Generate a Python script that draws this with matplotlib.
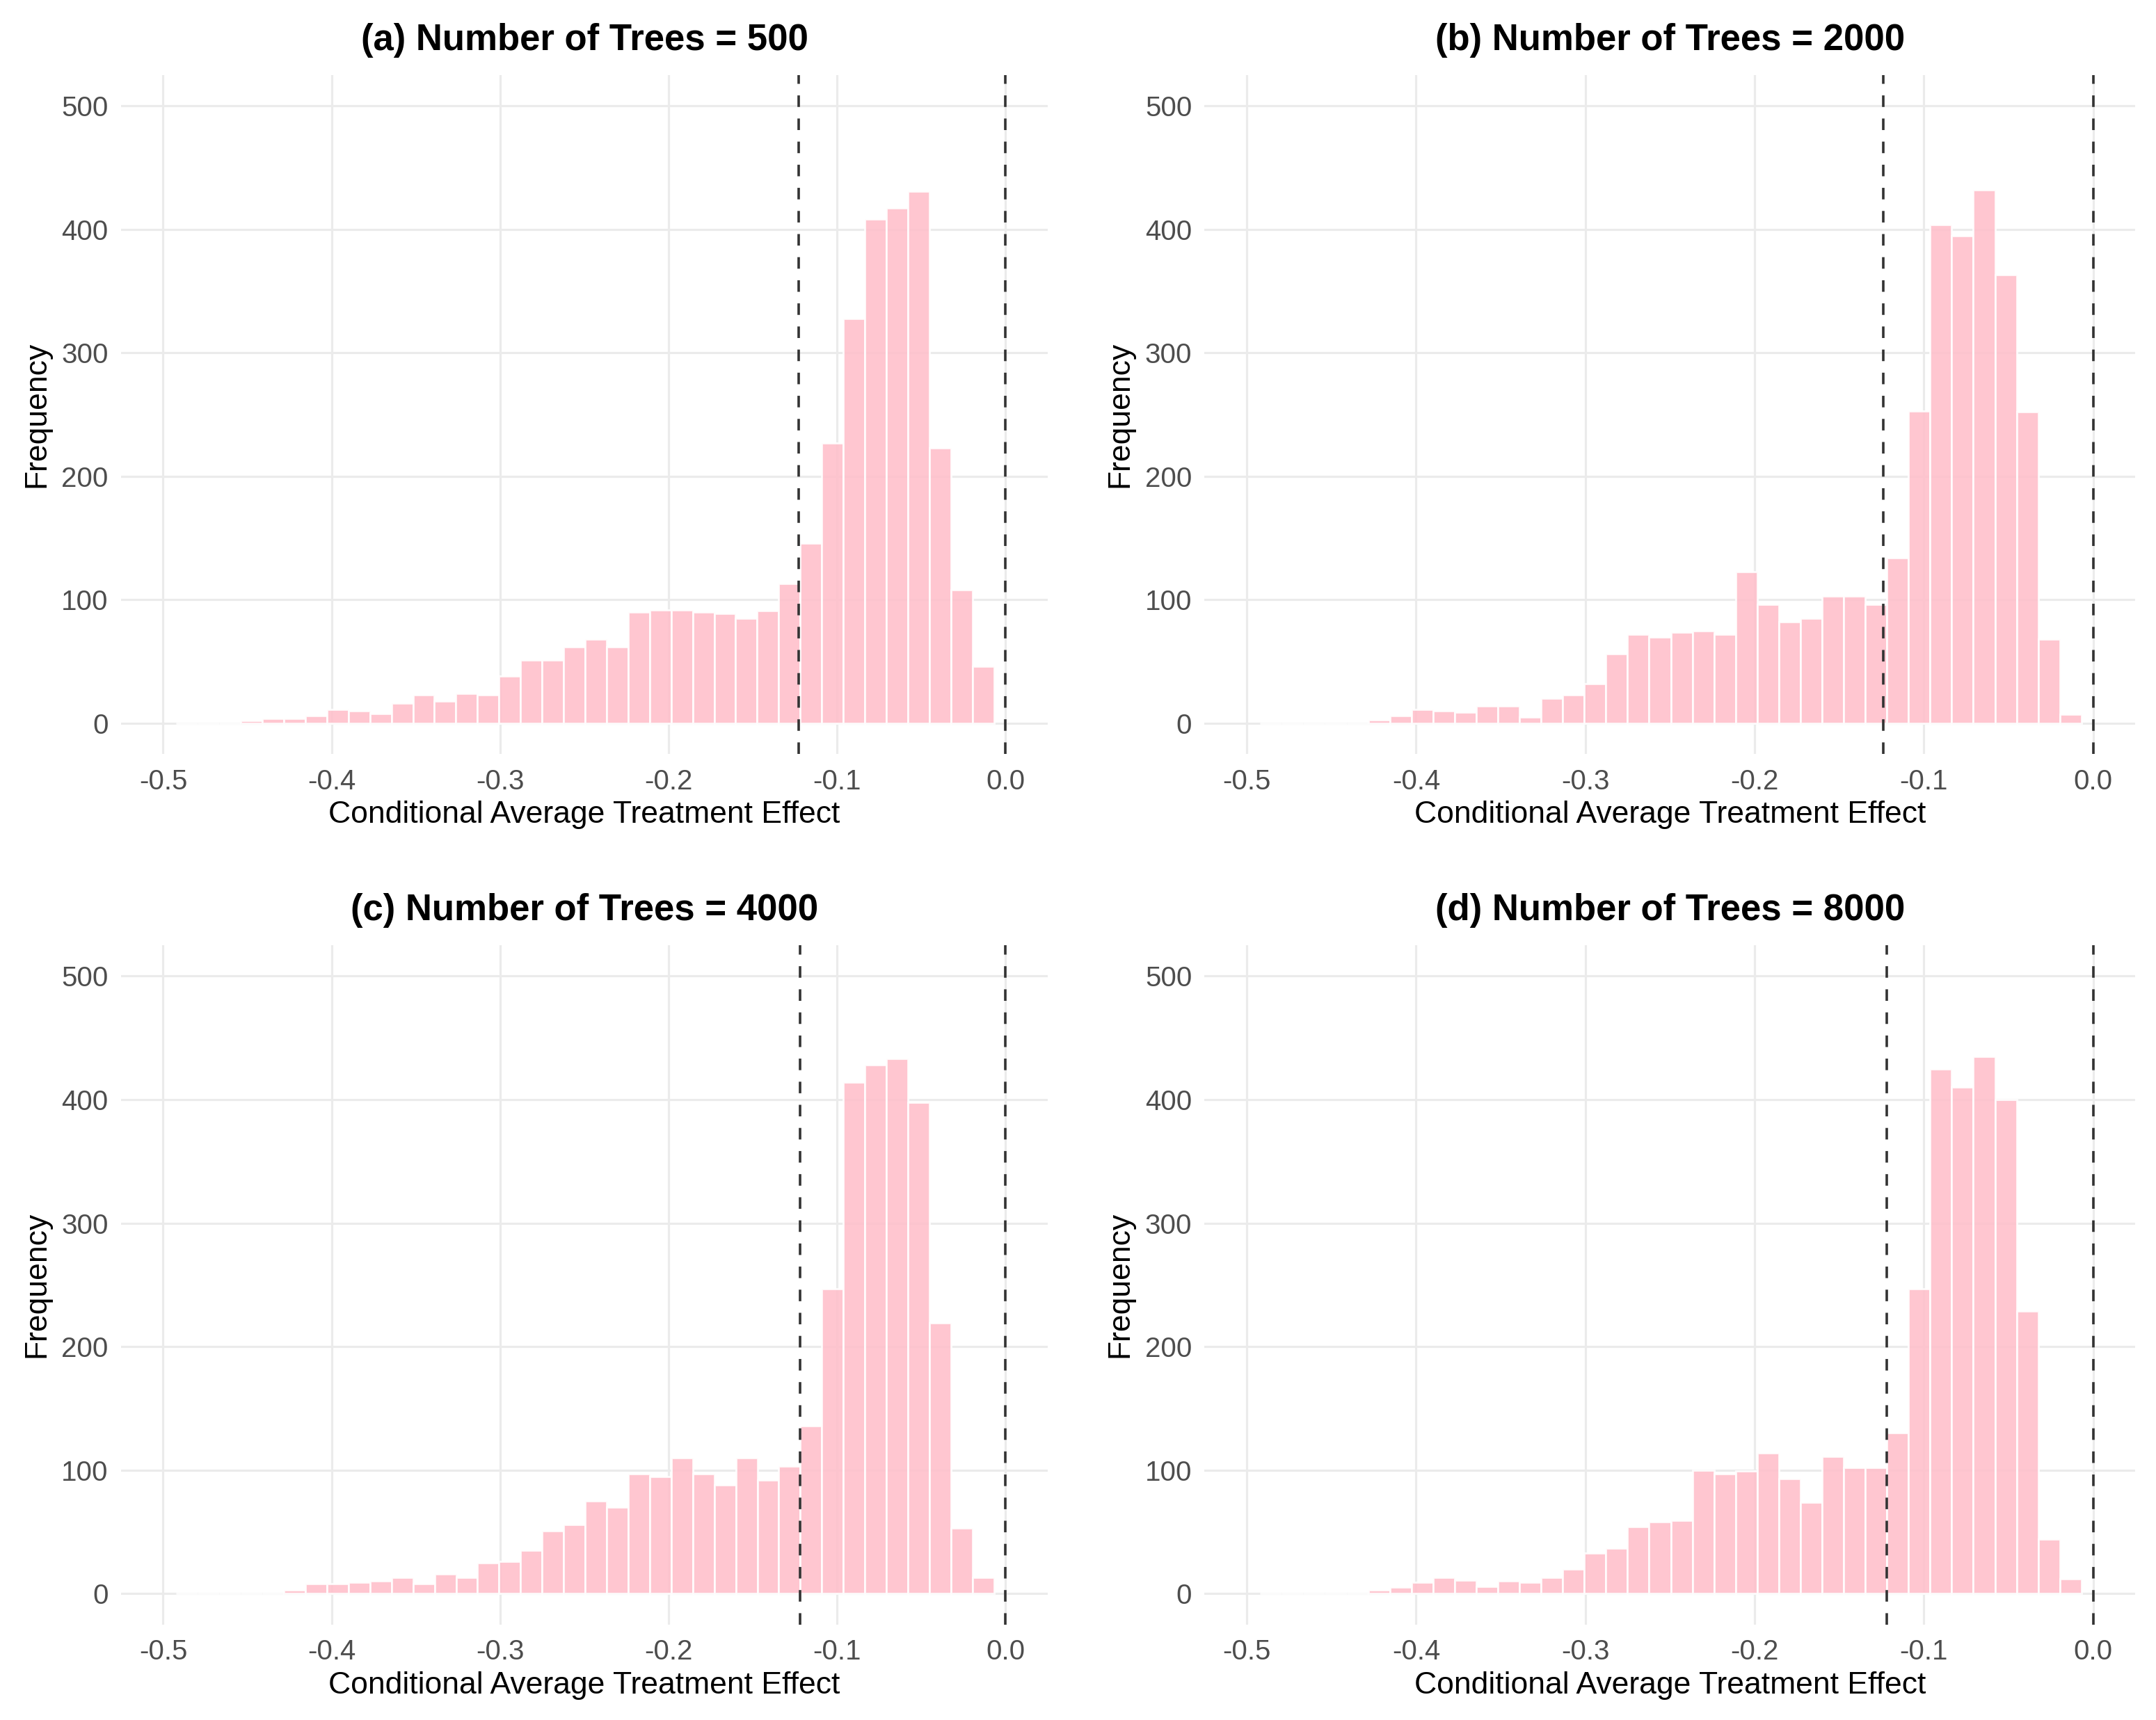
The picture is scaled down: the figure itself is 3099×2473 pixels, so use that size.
import numpy as np
import matplotlib
matplotlib.use("Agg")
import matplotlib.pyplot as plt

plt.rcParams['font.family'] = ['Liberation Sans', 'DejaVu Sans']

# histogram counts, one list per forest size
# (leading zeros are the empty bins between -0.49 and the first bar)
titles = ["(a) Number of Trees = 500", "(b) Number of Trees = 2000",
          "(c) Number of Trees = 4000", "(d) Number of Trees = 8000"]

counts_500 = [0, 0, 0,
              2, 4, 4, 6, 11, 10, 8, 16, 23, 18, 24, 23, 38, 51, 51, 62, 68, 62,
              90, 92, 92, 90, 89, 85, 91, 113, 146, 227, 328, 408, 417, 431,
              223, 108, 46]
counts_2000 = [0, 0, 0, 0, 0,
               3, 6, 11, 10, 9, 14, 14, 5, 20, 23, 32, 56, 72, 70, 74, 75, 72,
               123, 96, 82, 85, 103, 103, 96, 134, 253, 404, 395, 432, 363, 252,
               68, 7]
counts_4000 = [0, 0, 0, 0, 0,
               3, 8, 8, 9, 10, 13, 8, 16, 13, 25, 26, 35, 51, 56, 75, 70, 97, 95,
               110, 97, 88, 110, 92, 103, 136, 247, 414, 428, 433, 398, 219, 53,
               13]
counts_8000 = [0, 0, 0, 0, 0,
               3, 5, 9, 13, 11, 6, 10, 9, 13, 20, 33, 37, 54, 58, 59, 100, 97, 99,
               114, 93, 74, 111, 102, 102, 130, 247, 425, 410, 435, 400, 229, 44,
               12]
all_counts = [counts_500, counts_2000, counts_4000, counts_8000]

# left edge of the first bin in each panel, common bin width
bin_start = [-0.4539 - 3 * 0.01277, -0.4283 - 5 * 0.01277,
             -0.4283 - 5 * 0.01277, -0.4283 - 5 * 0.01277]
bin_width = 0.01277

# dashed reference lines (average effect and zero)
ate_line = [-0.123, -0.124, -0.122, -0.122]
zero_line = 0.0

x_ticks = [-0.5, -0.4, -0.3, -0.2, -0.1, 0.0]
y_ticks = [0, 100, 200, 300, 400, 500]

W, H = 1568.0, 1251.0
# panel boxes in (left, bottom, width, height) pixel units of the reference
boxes = [(88, 548.5, 674, 494), (876, 548.5, 677, 494),
         (88, 1181.5, 674, 494), (876, 1181.5, 677, 494)]

fig = plt.figure(figsize=(30.99, 24.73), dpi=100)

grid_col = "#EBEBEB"
for i in range(4):
    l, b, w, h = boxes[i]
    ax = fig.add_axes([l / W, 1 - b / H, w / W, h / H])
    counts = all_counts[i]
    lefts = bin_start[i] + bin_width * np.arange(len(counts))
    ax.set_axisbelow(True)
    ax.grid(True, color=grid_col, linewidth=2.3)
    ax.bar(lefts, counts, width=bin_width, align='edge', color='pink',
           alpha=0.9, edgecolor='white', linewidth=2.0, zorder=2)
    for xv in (ate_line[i], zero_line):
        ax.axvline(xv, color='#333333', linewidth=2.6,
                   linestyle=(0, (4.6, 4.6)), zorder=3)
    ax.set_xlim(-0.525, 0.025)
    ax.set_ylim(-25, 525)
    ax.set_xticks(x_ticks)
    ax.set_xticklabels(["-0.5", "-0.4", "-0.3", "-0.2", "-0.1", "0.0"])
    ax.set_yticks(y_ticks)
    for s in ax.spines.values():
        s.set_visible(False)
    ax.tick_params(axis='x', length=0, labelsize=29, labelcolor='#4D4D4D', pad=15)
    ax.tick_params(axis='y', length=0, labelsize=29, labelcolor='#4D4D4D', pad=13)
    ax.set_xlabel("Conditional Average Treatment Effect", fontsize=32, labelpad=6)
    ax.set_ylabel("Frequency", fontsize=32, labelpad=11)
    ax.set_title(titles[i], fontsize=38, fontweight='bold', pad=26)

fig.savefig("out.png", dpi=100)
